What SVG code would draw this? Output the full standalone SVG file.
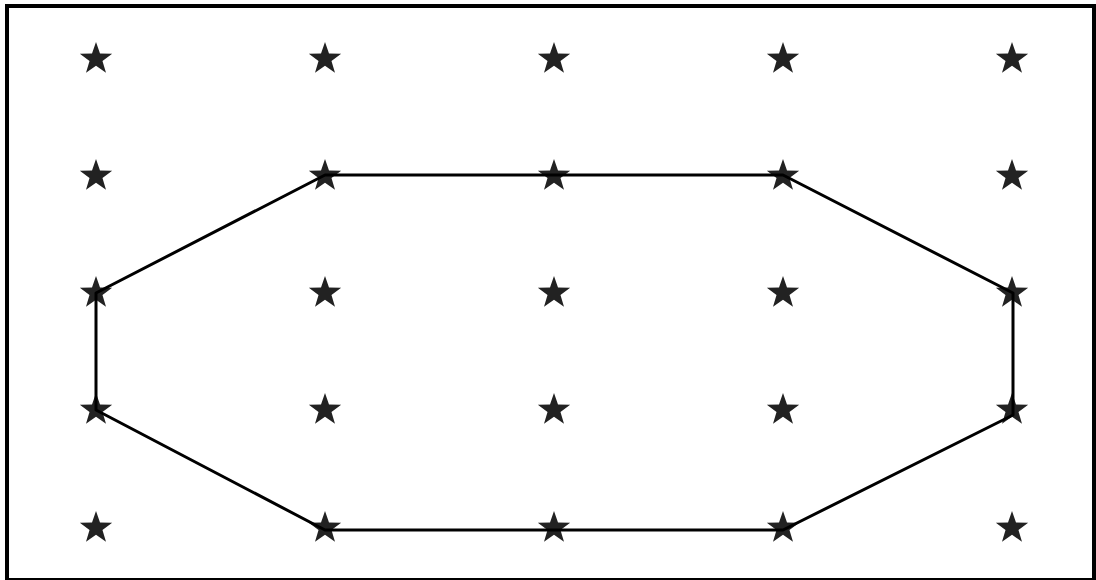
<svg xmlns="http://www.w3.org/2000/svg" xmlns:xlink="http://www.w3.org/1999/xlink" width="1096" height="580" viewBox="0 0 1096 580">
<style>
.star{fill:#222222;}
.frame{fill:none;stroke:#000;stroke-width:4;}
.edge{fill:none;stroke:#000;stroke-width:3;stroke-linejoin:round;}
</style>
<defs>
<path id="st" class="star" d="M0,-17 L4,-5.5 L16.17,-5.25 L6.47,2.1 L9.99,13.75 L0,6.8 L-9.99,13.75 L-6.47,2.1 L-16.17,-5.25 L-4,-5.5 Z"/>
</defs>
<rect width="1096" height="580" fill="#fff"/>
<rect class="frame" x="7" y="6" width="1087" height="574"/>
<g id="stars">
<g id="r0"><use xlink:href="#st" x="96" y="59"/><use xlink:href="#st" x="325" y="59"/><use xlink:href="#st" x="554" y="59"/><use xlink:href="#st" x="783" y="59"/><use xlink:href="#st" x="1012" y="59"/></g>
<g id="r1"><use xlink:href="#st" x="96" y="176"/><use xlink:href="#st" x="325" y="176"/><use xlink:href="#st" x="554" y="176"/><use xlink:href="#st" x="783" y="176"/><use xlink:href="#st" x="1012" y="176"/></g>
<g id="r2"><use xlink:href="#st" x="96" y="293"/><use xlink:href="#st" x="325" y="293"/><use xlink:href="#st" x="554" y="293"/><use xlink:href="#st" x="783" y="293"/><use xlink:href="#st" x="1012" y="293"/></g>
<g id="r3"><use xlink:href="#st" x="96" y="410"/><use xlink:href="#st" x="325" y="410"/><use xlink:href="#st" x="554" y="410"/><use xlink:href="#st" x="783" y="410"/><use xlink:href="#st" x="1012" y="410"/></g>
<g id="r4"><use xlink:href="#st" x="96" y="528"/><use xlink:href="#st" x="325" y="528"/><use xlink:href="#st" x="554" y="528"/><use xlink:href="#st" x="783" y="528"/><use xlink:href="#st" x="1012" y="528"/></g>
</g>
<g id="connectors">
<polygon class="edge" points="96,293 325,175 783,175 1013,293 1013,415 783,530 325,530 96,410"/>
</g>
</svg>
